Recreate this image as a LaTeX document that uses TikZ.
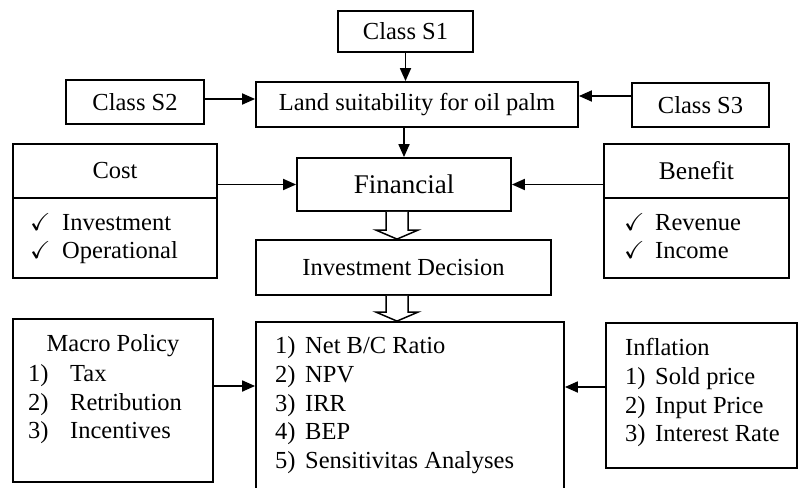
\documentclass[tikz,border=0pt]{standalone}
\usepackage{amssymb}
\usepackage{fontspec}
\setmainfont{Liberation Serif}
\usetikzlibrary{arrows.meta,calc}
\begin{document}
\begin{tikzpicture}[x=1pt,y=-1pt,
  box/.style={draw, line width=1.8pt, inner sep=0pt, font=\fontsize{24.5}{29}\selectfont},
  arr/.style={line width=1.8pt, -{Triangle[length=13pt,width=11pt]}},
  hol/.style={line width=1.5pt, line join=miter, fill=white},
  txt/.style={inner sep=0pt, anchor=base west, font=\fontsize{24.5}{29}\selectfont}]
\useasboundingbox (0,0) rectangle (799,487);
\clip (0,0) rectangle (799,487);
% top boxes
\node[box, minimum width=135pt, minimum height=41pt] (s1) at (405.5,31.5) {Class S1};
\node[box, minimum width=322pt, minimum height=45pt] (land) at (417,104.5) {Land suitability for oil palm};
\node[box, minimum width=138pt, minimum height=44pt] (s2) at (135,102) {Class S2};
\node[box, minimum width=137pt, minimum height=44pt] (s3) at (700.5,105) {Class S3};
\node[box, minimum width=214pt, minimum height=53pt, font=\fontsize{27}{32}\selectfont] (fin) at (404,184.5) {Financial};
\node[box, minimum width=295pt, minimum height=55pt] (id) at (403.5,267.5) {Investment Decision};
% cost
\node[box, minimum width=204pt, minimum height=54pt] (costT) at (115,171) {Cost};
\node[box, minimum width=204pt, minimum height=80pt] (costL) at (115,238) {};
\node[txt] (ck1) at (30,230) {$\checkmark$};
\node[txt] (c1) at (62,230) {Investment};
\node[txt] (ck2) at (30,258) {$\checkmark$};
\node[txt] (c2) at (62,258) {Operational};
% benefit
\node[box, minimum width=185pt, minimum height=54pt, font=\fontsize{25.5}{30}\selectfont] (benT) at (696.5,171) {Benefit};
\node[box, minimum width=185pt, minimum height=80pt] (benL) at (696.5,238) {};
\node[txt] (ck3) at (624,230) {$\checkmark$};
\node[txt] (b1) at (655,230) {Revenue};
\node[txt] (ck4) at (624,258) {$\checkmark$};
\node[txt] (b2) at (655,258) {Income};
% results
\node[box, minimum width=308pt, minimum height=178pt] (res) at (410,411) {};
\node[txt] (rn1) at (275,353) {1)}; \node[txt] (r1) at (305,353) {Net B/C Ratio};
\node[txt] (rn2) at (275,382) {2)}; \node[txt] (r2) at (305,382) {NPV};
\node[txt] (rn3) at (275,411) {3)}; \node[txt] (r3) at (305,411) {IRR};
\node[txt] (rn4) at (275,439) {4)}; \node[txt] (r4) at (305,439) {BEP};
\node[txt] (rn5) at (275,468) {5)}; \node[txt] (r5) at (305,468) {Sensitivitas Analyses};
% macro
\node[box, minimum width=200pt, minimum height=163pt] (mac) at (113,400.5) {};
\node[txt, anchor=base] (mt) at (113,351) {Macro Policy};
\node[txt] (mn1) at (28,381) {1)}; \node[txt] (m1) at (70,381) {Tax};
\node[txt] (mn2) at (28,410) {2)}; \node[txt] (m2) at (70,410) {Retribution};
\node[txt] (mn3) at (28,438) {3)}; \node[txt] (m3) at (70,438) {Incentives};
% inflation
\node[box, minimum width=191pt, minimum height=145pt] (inf) at (701.5,395.5) {};
\node[txt] (it) at (625,355) {Inflation};
\node[txt] (in1) at (625,384) {1)}; \node[txt] (i1) at (655,384) {Sold price};
\node[txt] (in2) at (625,413) {2)}; \node[txt] (i2) at (655,413) {Input Price};
\node[txt] (in3) at (625,441) {3)}; \node[txt] (i3) at (655,441) {Interest Rate};
% arrows
\draw[arr] (s1.south) -- (s1.south |- land.north);
\draw[arr] ([yshift=3pt]s2.east) -- ([yshift=3pt]s2.east -| land.west);
\draw[arr] ([yshift=9pt]s3.west) -- ([yshift=9pt]s3.west -| land.east);
\draw[arr] (land.south -| fin.north) -- (fin.north);
\draw[arr] (fin.west -| costT.east) -- (fin.west);
\draw[arr] (fin.east -| benT.west) -- (fin.east);
\draw[arr] ([yshift=14.5pt]mac.east) -- ([yshift=14.5pt]mac.east -| res.west);
\draw[arr] ([yshift=8.5pt]inf.west) -- ([yshift=8.5pt]inf.west -| res.east);
% hollow arrows
\draw[hol] ($(fin.south)+(-18,0)$) -- ($(id.north)+(-17.5,-9)$) -- ($(id.north)+(-27.5,-9)$) -- ($(id.north)+(-6.5,0)$) -- ($(id.north)+(14.5,-9)$) -- ($(id.north)+(4.5,-9)$) -- ($(fin.south)+(4,0)$);
\draw[hol] ($(id.south)+(-17.5,0)$) -- ($(res.north)+(-24,-9)$) -- ($(res.north)+(-34,-9)$) -- ($(res.north)+(-13,0)$) -- ($(res.north)+(8,-9)$) -- ($(res.north)+(-2,-9)$) -- ($(id.south)+(4.5,0)$);
\end{tikzpicture}
\end{document}
